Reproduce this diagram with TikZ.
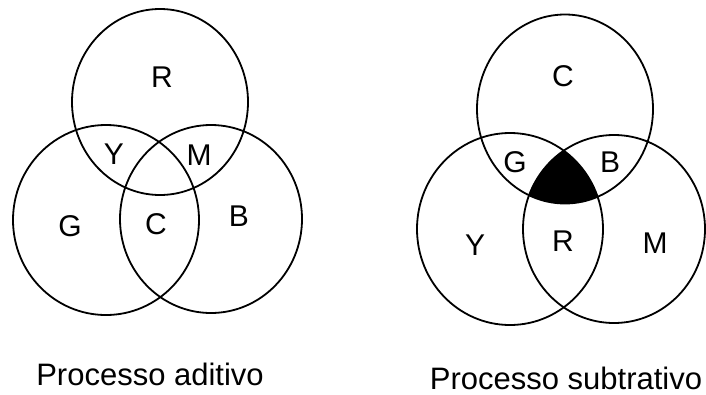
\documentclass[tikz,border=0pt]{standalone}
\usepackage{fontspec}
\setmainfont{Liberation Sans}
\usetikzlibrary{positioning}
\tikzset{
  ring/.style   = {draw, line width=1.8pt},
  lbl/.style    = {font=\fontsize{30}{34}\selectfont, inner sep=0pt},
  ttl/.style    = {font=\fontsize{31}{36}\selectfont, inner sep=0pt, anchor=base}
}

\begin{document}
\begin{tikzpicture}[x=1pt,y=-1pt]
        \useasboundingbox (0,0) rectangle (706,394);
        % aditivo
        \draw[ring] (160,102) ellipse [x radius=88,y radius=93];
        \draw[ring] (106,220) ellipse [x radius=93,y radius=95];
        \draw[ring] (211,219) ellipse [x radius=91,y radius=94];
        \node[lbl] (aR) at (162,77) {R};
        \node[lbl] (aY) at (114,154) {Y};
        \node[lbl] (aM) at (199,155) {M};
        \node[lbl] (aG) at (70,226) {G};
        \node[lbl] (aC) at (156,224) {C};
        \node[lbl] (aB) at (239,216) {B};
        \node[ttl] (adit) at (150,385) {Processo aditivo};
        % subtrativo
        \begin{scope}
          \clip (565,109) ellipse [x radius=88,y radius=94.5];
          \clip (510,229) ellipse [x radius=93,y radius=96];
          \fill (614,229) ellipse [x radius=91,y radius=94];
        \end{scope}
        \draw[ring] (565,109) ellipse [x radius=88,y radius=94.5];
        \draw[ring] (510,229) ellipse [x radius=93,y radius=96];
        \draw[ring] (614,229) ellipse [x radius=91,y radius=94];
        \node[lbl] (sC) at (563,76) {C};
        \node[lbl] (sG) at (515,162) {G};
        \node[lbl] (sB) at (610,162) {B};
        \node[lbl] (sY) at (475,245) {Y};
        \node[lbl] (sR) at (563,241) {R};
        \node[lbl] (sM) at (655,243) {M};
        \node[ttl] (subt) at (566,389) {Processo subtrativo};
      \end{tikzpicture}
\end{document}
